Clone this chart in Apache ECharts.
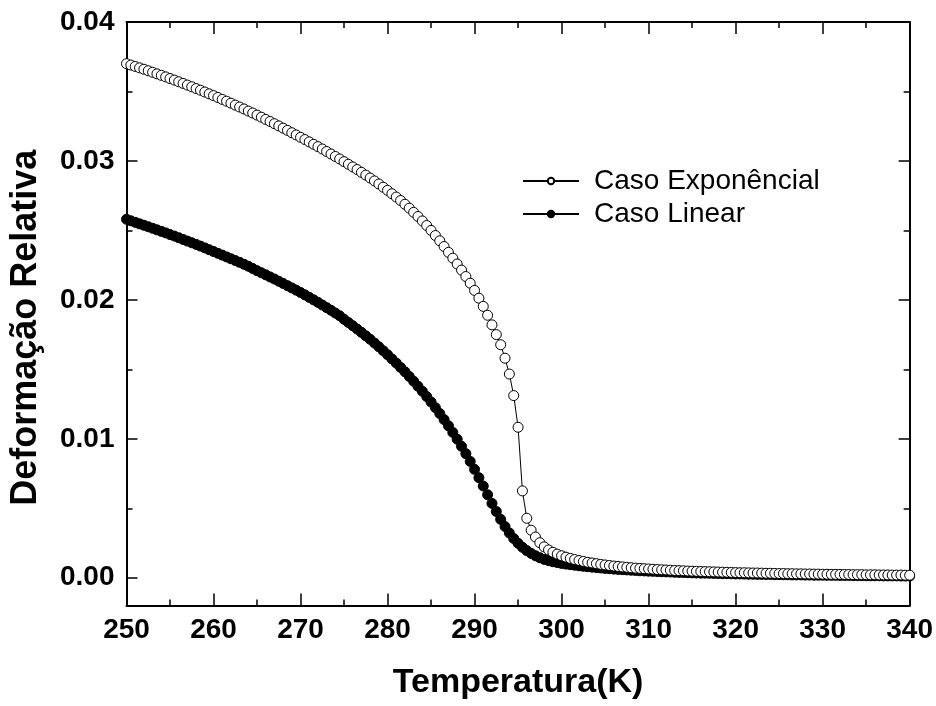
<!DOCTYPE html>
<html>
<head>
<meta charset="utf-8">
<script src="https://cdn.jsdelivr.net/npm/echarts@6/dist/echarts.min.js"></script>
<style>html,body{margin:0;padding:0;background:#fff}#c{width:936px;height:706px}</style>
</head>
<body>
<div id="c"></div>
<script>
var temperatura = [
250,250.5,251,251.5,252,252.5,253,253.5,254,254.5,255,255.5,256,256.5,257,257.5,258,258.5,259,259.5,
260,260.5,261,261.5,262,262.5,263,263.5,264,264.5,265,265.5,266,266.5,267,267.5,268,268.5,269,269.5,
270,270.5,271,271.5,272,272.5,273,273.5,274,274.5,275,275.5,276,276.5,277,277.5,278,278.5,279,279.5,
280,280.5,281,281.5,282,282.5,283,283.5,284,284.5,285,285.5,286,286.5,287,287.5,288,288.5,289,289.5,
290,290.5,291,291.5,292,292.5,293,293.5,294,294.5,295,295.5,296,296.5,297,297.5,298,298.5,299,299.5,
300,300.5,301,301.5,302,302.5,303,303.5,304,304.5,305,305.5,306,306.5,307,307.5,308,308.5,309,309.5,
310,310.5,311,311.5,312,312.5,313,313.5,314,314.5,315,315.5,316,316.5,317,317.5,318,318.5,319,319.5,
320,320.5,321,321.5,322,322.5,323,323.5,324,324.5,325,325.5,326,326.5,327,327.5,328,328.5,329,329.5,
330,330.5,331,331.5,332,332.5,333,333.5,334,334.5,335,335.5,336,336.5,337,337.5,338,338.5,339,339.5,
340];

var casoExponencial = [
.03700,.03690,.03680,.03670,.03660,.03649,.03638,.03627,.03616,.03605,.03593,.03582,.03570,.03558,.03546,.03534,.03521,.03509,.03496,.03483,
.03470,.03457,.03443,.03430,.03416,.03402,.03388,.03374,.03359,.03345,.03330,.03315,.03299,.03284,.03268,.03252,.03236,.03220,.03203,.03187,
.03170,.03154,.03137,.03120,.03103,.03086,.03068,.03050,.03032,.03014,.02995,.02976,.02957,.02938,.02918,.02898,.02877,.02856,.02834,.02811,
.02788,.02764,.02740,.02715,.02688,.02660,.02630,.02600,.02568,.02535,.02500,.02463,.02425,.02384,.02342,.02300,.02258,.02214,.02168,.02120,
.02068,.02012,.01953,.01889,.01820,.01750,.01677,.01580,.01466,.01311,.01083,.00625,.00428,.00342,.00293,.00252,.00222,.00200,.00183,.00170,
.00158,.00148,.00139,.00131,.00124,.00117,.00111,.00106,.00101,.00096,.00092,.00088,.00084,.00081,.00078,.00075,.00072,.00069,.00067,.00065,
.00063,.00061,.00059,.00057,.00056,.00054,.00052,.00051,.00050,.00048,.00047,.00046,.00045,.00044,.00043,.00042,.00041,.00040,.00039,.00038,
.00037,.00036,.00036,.00035,.00034,.00034,.00033,.00032,.00032,.00031,.00030,.00030,.00029,.00029,.00028,.00028,.00027,.00027,.00026,.00026,
.00025,.00025,.00024,.00024,.00024,.00023,.00023,.00022,.00022,.00022,.00021,.00021,.00021,.00020,.00020,.00020,.00019,.00019,.00019,.00018,
.00018];

var casoLinear = [
.02580,.02569,.02558,.02547,.02537,.02526,.02515,.02504,.02493,.02482,.02470,.02459,.02447,.02435,.02423,.02411,.02399,.02387,.02374,.02361,
.02348,.02335,.02322,.02309,.02296,.02283,.02270,.02256,.02242,.02226,.02210,.02195,.02180,.02165,.02150,.02134,.02118,.02102,.02086,.02070,
.02053,.02036,.02018,.02000,.01982,.01963,.01944,.01925,.01905,.01885,.01860,.01837,.01814,.01790,.01766,.01741,.01716,.01689,.01662,.01634,
.01605,.01575,.01545,.01514,.01482,.01448,.01414,.01378,.01342,.01304,.01265,.01224,.01182,.01138,.01093,.01046,.00997,.00946,.00893,.00837,
.00780,.00720,.00660,.00597,.00535,.00476,.00420,.00368,.00322,.00282,.00248,.00219,.00195,.00175,.00158,.00144,.00132,.00123,.00115,.00109,
.00103,.00098,.00094,.00090,.00086,.00082,.00079,.00076,.00073,.00070,.00067,.00065,.00062,.00060,.00058,.00056,.00054,.00052,.00050,.00049,
.00047,.00046,.00044,.00043,.00042,.00041,.00039,.00038,.00037,.00036,.00035,.00034,.00033,.00033,.00032,.00031,.00030,.00029,.00029,.00028,
.00027,.00027,.00026,.00025,.00025,.00024,.00024,.00023,.00023,.00022,.00022,.00021,.00021,.00020,.00020,.00020,.00019,.00019,.00018,.00018,
.00018,.00017,.00017,.00017,.00016,.00016,.00016,.00015,.00015,.00015,.00014,.00014,.00014,.00014,.00013,.00013,.00013,.00013,.00012,.00012,
.00012];

var yMajorTicks = [0, 0.01, 0.02, 0.03, 0.04];
var yMinorTicks = [0.005, 0.015, 0.025, 0.035];
var seriesNames = ['Caso Exponêncial', 'Caso Linear'];

function pairs(xs, ys) { return xs.map(function (x, i) { return [x, ys[i]]; }); }

var FONT = '"Liberation Sans", Arial, sans-serif';
var chart = echarts.init(document.getElementById('c'), null, { renderer: 'canvas' });

function yAx(pos, major) {
  return {
    type: 'value', position: pos, min: -0.002, max: 0.04,
    axisLine: { show: major, onZero: false, lineStyle: { color: '#000', width: 2 } },
    axisTick: { show: true, inside: true, length: major ? 11 : 6, lineStyle: { color: '#000', width: 1.5 },
                customValues: major ? yMajorTicks : yMinorTicks },
    axisLabel: { show: major && pos === 'left', customValues: yMajorTicks, margin: 12,
                 formatter: function (v) { return v.toFixed(2); },
                 color: '#000', fontFamily: FONT, fontWeight: 'bold', fontSize: 28 },
    splitLine: { show: false },
    name: (major && pos === 'left') ? 'Deformação Relativa' : '',
    nameLocation: 'middle', nameGap: 82,
    nameTextStyle: { color: '#000', fontFamily: FONT, fontWeight: 'bold', fontSize: 36, padding: [0, 28, 0, 0] }
  };
}
function xAx(pos) {
  var bottom = pos === 'bottom';
  return {
    type: 'value', position: pos, min: 250, max: 340, interval: 10,
    axisLine: { show: true, onZero: false, lineStyle: { color: '#000', width: 2 } },
    axisTick: { show: true, inside: true, length: 12, lineStyle: { color: '#000', width: 1.5 } },
    minorTick: { show: true, splitNumber: 2, length: 6, lineStyle: { color: '#000', width: 1.5 } },
    axisLabel: { show: bottom, margin: 11, color: '#000', fontFamily: FONT, fontWeight: 'bold', fontSize: 28 },
    splitLine: { show: false }, minorSplitLine: { show: false },
    name: bottom ? 'Temperatura(K)' : '',
    nameLocation: 'middle', nameGap: 60,
    nameTextStyle: { color: '#000', fontFamily: FONT, fontWeight: 'bold', fontSize: 34 }
  };
}

chart.setOption({
  animation: false,
  backgroundColor: '#fff',
  grid: { left: 126.5, right: 25.5, top: 22, bottom: 100.5, containLabel: false },
  legend: {
    orient: 'vertical', left: 522, top: 167, padding: 0, itemWidth: 56, itemHeight: 8, itemGap: 5,
    data: seriesNames,
    textStyle: { color: '#000', fontFamily: FONT, fontSize: 28, padding: [0, 0, 0, 10] }
  },
  xAxis: [xAx('bottom'), xAx('top')],
  yAxis: [yAx('left', true), yAx('left', false), yAx('right', true), yAx('right', false)],
  series: [
    {
      name: seriesNames[1], type: 'line', data: pairs(temperatura, casoLinear),
      symbol: 'circle', symbolSize: 10, z: 2,
      itemStyle: { color: '#000', borderColor: '#000', borderWidth: 1 },
      lineStyle: { color: '#000', width: 1 }
    },
    {
      name: seriesNames[0], type: 'line', data: pairs(temperatura, casoExponencial),
      symbol: 'circle', symbolSize: 10, z: 3,
      itemStyle: { color: '#fff', borderColor: '#000', borderWidth: 1 },
      lineStyle: { color: '#000', width: 1 }
    }
  ]
});
</script>
</body>
</html>
